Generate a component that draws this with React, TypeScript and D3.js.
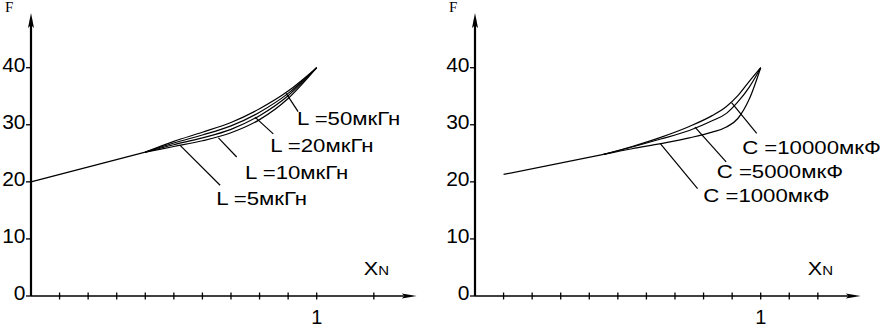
import React from "react";
import * as d3 from "d3";

// axis ticks
const yTicks = [0, 10, 20, 30, 40];
const leftXTicks = [0.1, 0.2, 0.3, 0.4, 0.5, 0.6, 0.7, 0.8, 0.9, 1.0, 1.2];
const rightXTicks = [0.1, 0.2, 0.3, 0.4, 0.5, 0.6, 0.7, 0.8, 0.9, 1.0, 1.1, 1.2];

// left panel: F(X_N) for several inductances
const leftCommonX = [0, 0.4];
const leftCommonF = [20, 25.2];
const leftX = [0.4, 0.5, 0.6, 0.7, 0.8, 0.9, 1.0];
const leftL5 = [25.2, 26.2, 27.2, 28.6, 30.9, 34.6, 40];
const leftL10 = [25.2, 26.5, 27.7, 29.2, 31.6, 35.1, 40];
const leftL20 = [25.2, 26.8, 28.2, 29.8, 32.2, 35.5, 40];
const leftL50 = [25.2, 27.1, 28.7, 30.4, 32.8, 35.9, 40];
const leftNames = ["L =5мкГн", "L =10мкГн", "L =20мкГн", "L =50мкГн"];
const leftLeaderFrom = [[0.522, 26.4], [0.656, 27.7], [0.784, 31.35], [0.893, 35.5]];
const leftLeaderTo = [[0.662, 19.4], [0.72, 24.35], [0.848, 28.4], [0.935, 32.3]];
const leftLabelAt = [[0.648, 15.9], [0.749, 20.5], [0.837, 25.2], [0.931, 29.9]];

// right panel: F(X_N) for several capacitances
const rightCommonX = [0.1, 0.45];
const rightCommonF = [21.3, 24.8];
const rightX = [0.45, 0.55, 0.65, 0.75, 0.83, 0.88, 0.92, 0.96, 1.0];
const rightC1000 = [24.8, 25.8, 26.7, 27.7, 28.7, 29.6, 31.1, 34.5, 40];
const rightC5000 = [24.8, 26.1, 27.5, 29.0, 30.7, 32.0, 34.0, 36.6, 40];
const rightC10000 = [24.8, 26.2, 27.8, 29.7, 31.6, 33.2, 35.1, 37.6, 40];
const rightNames = ["C =1000мкФ", "C =5000мкФ", "C =10000мкФ"];
const rightLeaderFrom = [[0.648, 26.75], [0.77, 29.6], [0.898, 33.9]];
const rightLeaderTo = [[0.779, 18.8], [0.879, 23.5], [0.986, 28.5]];
const rightLabelAt = [[0.799, 16.5], [0.846, 20.6], [0.935, 24.9]];

const W = 882;
const H = 328;
const sans = "'Liberation Sans', Arial, sans-serif";
const serif = "'Liberation Serif', 'Times New Roman', serif";
const stretch = 1.2;

const y = d3.scaleLinear().domain([0, 40]).range([296, 67.7]);

interface PanelProps {
  x0: number;
  ticks: number[];
  commonX: number[];
  commonF: number[];
  xs: number[];
  series: number[][];
  names: string[];
  from: number[][];
  to: number[][];
  labelAt: number[][];
}

const Panel: React.FC<PanelProps> = ({
  x0,
  ticks,
  commonX,
  commonF,
  xs,
  series,
  names,
  from,
  to,
  labelAt,
}) => {
  const x = d3.scaleLinear().domain([0, 1]).range([x0, x0 + 285.7]);
  const line = d3
    .line<number>()
    .x((_, i) => x(xs[i]))
    .y((d) => y(d))
    .curve(d3.curveMonotoneX);
  const common = d3
    .line<number>()
    .x((_, i) => x(commonX[i]))
    .y((d) => y(d));

  const ax = x(0);
  const ay = y(0);
  const yTop = y(49.6);
  const xEnd = x(1.35);

  return (
    <g>
      {/* axes */}
      <line x1={ax} x2={ax} y1={ay} y2={yTop + 6} stroke="#000" strokeWidth={2.2} />
      <path
        d={`M${ax},${yTop} L${ax - 3},${yTop + 15} L${ax},${yTop + 12} L${ax + 3},${yTop + 15} Z`}
        fill="#000"
      />
      <line x1={ax} x2={xEnd - 6} y1={ay} y2={ay} stroke="#000" strokeWidth={1.6} />
      <path
        d={`M${xEnd},${ay} L${xEnd - 15},${ay - 2.5} L${xEnd - 12},${ay} L${xEnd - 15},${ay + 2.5} Z`}
        fill="#000"
      />
      {yTicks.map((t) => (
        <g key={t}>
          <line x1={ax - 5} x2={ax} y1={y(t)} y2={y(t)} stroke="#000" strokeWidth={1.3} />
          <text
            x={ax - 5.5}
            y={y(t) + 4}
            textAnchor="end"
            fontFamily={sans}
            fontSize={21}
          >
            {t}
          </text>
        </g>
      ))}
      {ticks.map((t) => (
        <line key={t} x1={x(t)} x2={x(t)} y1={ay - 3.5} y2={ay + 3.5} stroke="#000" strokeWidth={1.3} />
      ))}
      <text x={x(1)} y={324} textAnchor="middle" fontFamily={sans} fontSize={20}>
        1
      </text>
      <text x={ax - 26} y={12} fontFamily={serif} fontSize={15}>
        F
      </text>
      <text
        transform={`translate(${x(1.165)},${275}) scale(${stretch},1)`}
        fontFamily={sans}
        fontSize={18}
      >
        X<tspan fontSize={12.5}>N</tspan>
      </text>

      {/* curves */}
      <path d={common(commonF) ?? ""} fill="none" stroke="#000" strokeWidth={1.3} />
      {series.map((s, i) => (
        <path key={i} d={line(s) ?? ""} fill="none" stroke="#000" strokeWidth={1.2} />
      ))}

      {/* leaders and labels */}
      {names.map((n, i) => (
        <g key={n}>
          <line
            x1={x(from[i][0])}
            y1={y(from[i][1])}
            x2={x(to[i][0])}
            y2={y(to[i][1])}
            stroke="#000"
            strokeWidth={1.2}
          />
          <text
            transform={`translate(${x(labelAt[i][0])},${y(labelAt[i][1])}) scale(${stretch},1)`}
            fontFamily={sans}
            fontSize={18.5}
          >
            {n}
          </text>
        </g>
      ))}
    </g>
  );
};

export default function App() {
  return (
    <svg
      width={W}
      height={H}
      style={{ position: "absolute", left: 0, top: 0, background: "#fff" }}
    >
      <Panel
        x0={31}
        ticks={leftXTicks}
        commonX={leftCommonX}
        commonF={leftCommonF}
        xs={leftX}
        series={[leftL5, leftL10, leftL20, leftL50]}
        names={leftNames}
        from={leftLeaderFrom}
        to={leftLeaderTo}
        labelAt={leftLabelAt}
      />
      <Panel
        x0={475}
        ticks={rightXTicks}
        commonX={rightCommonX}
        commonF={rightCommonF}
        xs={rightX}
        series={[rightC1000, rightC5000, rightC10000]}
        names={rightNames}
        from={rightLeaderFrom}
        to={rightLeaderTo}
        labelAt={rightLabelAt}
      />
    </svg>
  );
}
